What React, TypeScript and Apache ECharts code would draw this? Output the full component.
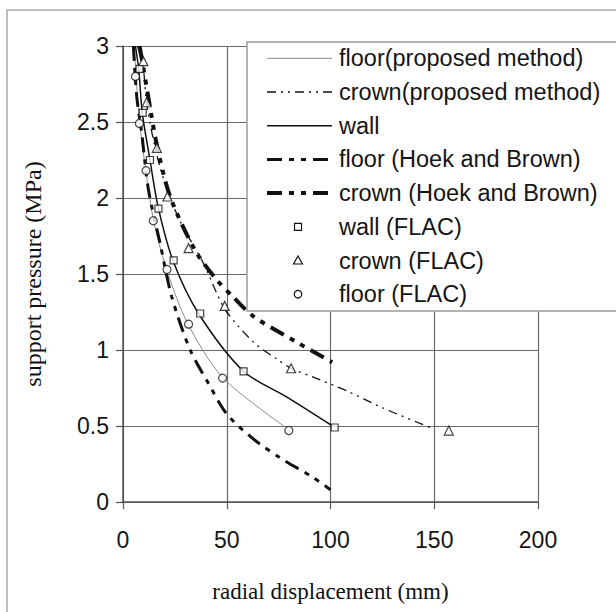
import React, { useEffect, useRef } from "react";
import * as echarts from "echarts";

// ---- data (radial displacement mm, support pressure MPa) ----
const xTicks = [0, 50, 100, 150, 200];
const yTicks = [0, 0.5, 1, 1.5, 2, 2.5, 3];

const floorProposed: number[][] = [
  [5.5, 3.0], [6.3, 2.8], [8, 2.5], [11, 2.18], [14.6, 1.86], [21, 1.53],
  [31, 1.18], [48, 0.82], [77.5, 0.5],
];
const crownProposed: number[][] = [
  [7, 3.0], [9.8, 2.85], [11.6, 2.6], [17.9, 2.2], [26.7, 1.87],
  [38.8, 1.57], [45.3, 1.37], [50, 1.25], [63, 1.05], [74.2, 0.94], [81, 0.88], [92, 0.82],
  [108, 0.73], [125, 0.62], [148, 0.49],
];
const wallProposed: number[][] = [
  [6, 3.0], [7.6, 2.84], [9.3, 2.56], [13, 2.25], [17.1, 1.93], [24.3, 1.58],
  [36.4, 1.24], [58.1, 0.86], [79, 0.69], [101, 0.5],
];
const floorHB: number[][] = [
  [5, 3.0], [6.6, 2.67], [9, 2.43], [12.2, 2.06], [17.9, 1.7], [23.5, 1.35],
  [32.4, 1.0], [41.2, 0.78], [50, 0.58], [62.8, 0.415], [75.8, 0.29],
  [91.8, 0.16], [100, 0.08],
];
const crownHB: number[][] = [
  [8, 3.0], [12, 2.68], [16.3, 2.35], [22.7, 2.01], [35, 1.65], [45.3, 1.46],
  [53, 1.35], [63, 1.22], [83.9, 1.05], [100.8, 0.92],
];
const wallFLAC: number[][] = [
  [8, 2.85], [9.5, 2.56], [13, 2.25], [17.1, 1.93], [24.4, 1.59],
  [37.2, 1.24], [58.1, 0.86], [102, 0.49],
];
const crownFLAC: number[][] = [
  [9.8, 2.9], [11.4, 2.63], [16.3, 2.33], [21.4, 2.01], [31.6, 1.67],
  [49, 1.29], [81, 0.88], [157, 0.47],
];
const floorFLAC: number[][] = [
  [6, 2.8], [7.9, 2.49], [11.1, 2.18], [14.6, 1.85], [21.2, 1.53],
  [31.6, 1.17], [48, 0.815], [79.9, 0.47],
];
const legendLabels = [
  "floor(proposed method)",
  "crown(proposed method)",
  "wall",
  "floor (Hoek and Brown)",
  "crown (Hoek and Brown)",
  "wall (FLAC)",
  "crown (FLAC)",
  "floor (FLAC)",
];

const SANS = "'Liberation Sans', Arial, sans-serif";
const SERIF = "'Liberation Serif', 'Times New Roman', serif";

const dashDotDot = [9, 5, 2, 5, 2, 5];
const hbDash = [15, 7, 5, 7, 5, 7];

export default function App() {
  const ref = useRef<HTMLDivElement>(null);
  useEffect(() => {
    if (!ref.current) return;
    const chart = echarts.init(ref.current, undefined, { renderer: "svg" });

    const lineSeries = (name: string, data: number[][], color: string, width: number, type: any) => ({
      name,
      type: "line",
      data,
      smooth: 0.3,
      showSymbol: false,
      symbol: "none",
      lineStyle: { color, width, type, cap: "butt" },
      z: 3,
    });
    const markerSeries = (name: string, data: number[][], symbol: string, size: number) => ({
      name,
      type: "scatter",
      data,
      symbol,
      symbolSize: size,
      itemStyle: { color: "#fff", borderColor: "#111", borderWidth: 1.2 },
      z: 4,
    });

    // legend as graphics
    const lx0 = 267, lx1 = 332, tx = 339, ry0 = 58.3, dy = 33.7;
    const legendEls: any[] = [
      {
        type: "rect",
        shape: { x: 247, y: 42, width: 420, height: 269 },
        style: { fill: "#fff", stroke: "#9a9a9a", lineWidth: 1.5 },
        z: 100,
      },
    ];
    const lineSamples = [
      { color: "#8a8a8a", width: 1, dash: "solid" },
      { color: "#111", width: 1.3, dash: dashDotDot },
      { color: "#111", width: 1.5, dash: "solid" },
      { color: "#111", width: 3, dash: hbDash },
      { color: "#111", width: 4, dash: hbDash },
    ];
    lineSamples.forEach((s, i) => {
      const y = ry0 + i * dy;
      legendEls.push({
        type: "line",
        shape: { x1: lx0, y1: y, x2: lx1, y2: y },
        style: { stroke: s.color, lineWidth: s.width, lineDash: s.dash === "solid" ? null : s.dash },
        z: 101,
      });
    });
    const mx = 298;
    legendEls.push({
      type: "rect",
      shape: { x: mx - 3.5, y: ry0 + 5 * dy - 3.5, width: 7, height: 7 },
      style: { fill: "#fff", stroke: "#111", lineWidth: 1.2 },
      z: 101,
    });
    legendEls.push({
      type: "polygon",
      shape: { points: [[mx, ry0 + 6 * dy - 4.5], [mx + 4.5, ry0 + 6 * dy + 3.5], [mx - 4.5, ry0 + 6 * dy + 3.5]] },
      style: { fill: "#fff", stroke: "#111", lineWidth: 1.2 },
      z: 101,
    });
    legendEls.push({
      type: "circle",
      shape: { cx: mx, cy: ry0 + 7 * dy, r: 3.8 },
      style: { fill: "#fff", stroke: "#111", lineWidth: 1.2 },
      z: 101,
    });
    legendLabels.forEach((t, i) => {
      legendEls.push({
        type: "text",
        x: tx,
        y: ry0 + i * dy,
        style: { text: t, font: `23.5px ${SANS}`, fill: "#151515", textVerticalAlign: "middle", verticalAlign: "middle" },
        z: 102,
      });
    });

    chart.setOption({
      animation: false,
      backgroundColor: "#fff",
      grid: { left: 123, top: 46, right: 78, bottom: 110, containLabel: false },
      xAxis: {
        type: "value",
        min: xTicks[0],
        max: xTicks[xTicks.length - 1],
        interval: 50,
        name: "radial displacement (mm)",
        nameLocation: "middle",
        nameGap: 78,
        nameTextStyle: { fontFamily: SERIF, fontSize: 23, color: "#111" },
        axisLine: { show: true, lineStyle: { color: "#555", width: 1.5 } },
        axisTick: { show: true, length: 7, inside: false, lineStyle: { color: "#555", width: 1.2 } },
        axisLabel: { fontFamily: SANS, fontSize: 23, color: "#151515", margin: 26 },
        splitLine: { show: true, lineStyle: { color: "#6a6a6a", width: 1.2 } },
      },
      yAxis: {
        type: "value",
        min: yTicks[0],
        max: yTicks[yTicks.length - 1],
        interval: 0.5,
        name: "support pressure (MPa)",
        nameLocation: "middle",
        nameGap: 78,
        nameTextStyle: { fontFamily: SERIF, fontSize: 24, color: "#111" },
        axisLine: { show: true, lineStyle: { color: "#555", width: 1.5 } },
        axisTick: { show: true, length: 7, inside: false, lineStyle: { color: "#555", width: 1.2 } },
        axisLabel: { fontFamily: SANS, fontSize: 23, color: "#151515", margin: 14 },
        splitLine: { show: true, lineStyle: { color: "#6a6a6a", width: 1.2 } },
      },
      series: [
        lineSeries(legendLabels[0], floorProposed, "#8a8a8a", 1, "solid"),
        lineSeries(legendLabels[1], crownProposed, "#111", 1.3, dashDotDot),
        lineSeries(legendLabels[2], wallProposed, "#111", 1.5, "solid"),
        lineSeries(legendLabels[3], floorHB, "#111", 3, hbDash),
        lineSeries(legendLabels[4], crownHB, "#111", 4, hbDash),
        markerSeries(legendLabels[5], wallFLAC, "rect", 7),
        markerSeries(legendLabels[6], crownFLAC, "triangle", 9),
        markerSeries(legendLabels[7], floorFLAC, "circle", 8),
      ],
      graphic: [
        {
          type: "rect",
          shape: { x: 7, y: 10, width: 700, height: 700 },
          style: { fill: "none", stroke: "#aaaaaa", lineWidth: 1.5 },
          z: -1,
          silent: true,
        },
        ...legendEls,
      ],
    });
    return () => chart.dispose();
  }, []);

  return (
    <div
      ref={ref}
      style={{ position: "fixed", left: 0, top: 0, width: 616, height: 612, background: "#fff" }}
    />
  );
}
